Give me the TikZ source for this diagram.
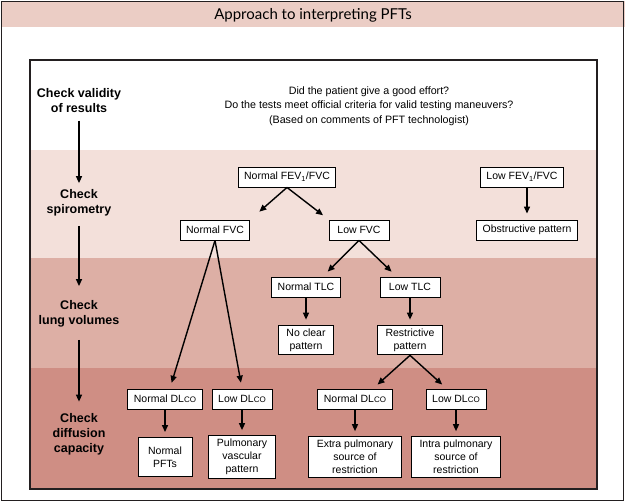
\documentclass[tikz,border=0pt]{standalone}
\usepackage{fontspec}
\setmainfont{Liberation Sans}
\newfontfamily\headfont{Lato}
\usepackage{xcolor}
\definecolor{headpink}{HTML}{EBCDC5}
\definecolor{bandone}{HTML}{F3E0DA}
\definecolor{bandtwo}{HTML}{DDAFA5}
\definecolor{bandthree}{HTML}{CF8E84}
\definecolor{framegray}{HTML}{231F20}
\usetikzlibrary{arrows.meta, calc}

\newcommand{\dlco}{DL{\fontsize{8}{8}\selectfont CO}}

\begin{document}
\begin{tikzpicture}[x=1pt, y=-1pt, font=\fontsize{10.5}{13}\selectfont,
    box/.style={draw, fill=white, line width=0.9pt, minimum width=60pt,
      minimum height=20pt, inner xsep=6pt},
    tbox/.style={draw, fill=white, line width=0.9pt, align=center,
      inner xsep=8pt, inner ysep=3.5pt},
    stage/.style={font=\fontsize{12.5}{15}\selectfont\bfseries, align=center},
    arr/.style={-{Triangle[length=7pt,width=6pt]}, line width=1.4pt}]
  \useasboundingbox (0,0) rectangle (626,502);
  % header
  \fill[headpink] (1,1) rectangle (625,27);
  \node (head) at (313,15) {\headfont\fontsize{15}{15}\selectfont Approach to interpreting PFTs};
  \draw[framegray, line width=0.8pt] (1.5,1) rectangle (623.5,500.5);
  % bands
  \foreach \y/\h/\c in {150/258/bandone, 258/368/bandtwo, 368/489/bandthree}{
    \fill[\c] (30,\y) rectangle (597,\h);
  }
  \draw[framegray, line width=2.4pt] (30,60) rectangle (597,489);

  % stages
  \node[stage] (valid) at (79,101) {Check validity\\of results};
  \node[stage] (spiro) at (79,203) {Check\\spirometry};
  \node[stage] (volum) at (79,314) {Check\\lung volumes};
  \node[stage] (diffu) at (79,434) {Check\\diffusion\\capacity};
  \foreach \a/\b/\s/\e in {valid/spiro/4/3, spiro/volum/6/11, volum/diffu/9/8}{
    \draw[arr, shorten <=\s pt, shorten >=\e pt] (\a) -- (\b);
  }
  \node[align=center, font=\fontsize{10.7}{14.5}\selectfont] (effort) at (369,106)
    {Did the patient give a good effort?\\
     Do the tests meet official criteria for valid testing maneuvers?\\
     (Based on comments of PFT technologist)};

  % spirometry
  \node[box] (nfev) at (287,177) {Normal FEV\textsubscript{1}/FVC};
  \node[box] (lfev) at (522,177) {Low FEV\textsubscript{1}/FVC};
  \node[box] (nfvc) at (215,230) {Normal FVC};
  \node[box] (lfvc) at (359,230) {Low FVC};
  \node[box] (obst) at (527,230) {Obstructive pattern};
  % lung volumes
  \node[box] (ntlc) at (306,287) {Normal TLC};
  \node[box] (ltlc) at (410,287) {Low TLC};
  \node[tbox] (nocl) at (306,340) {No clear\\pattern};
  \node[tbox] (rest) at (410,340) {Restrictive\\pattern};
  % diffusion
  \node[box] (ndla) at (165,399) {Normal \dlco};
  \node[box] (ldla) at (242,399) {Low \dlco};
  \node[box] (ndlb) at (355,399) {Normal \dlco};
  \node[box] (ldlb) at (456,399) {Low \dlco};
  \node[tbox, minimum width=54pt, minimum height=39pt] (npft) at (165,457) {Normal\\PFTs};
  \node[tbox] (pvas) at (242,457) {Pulmonary\\vascular\\pattern};
  \node[tbox] (extr) at (355,457) {Extra pulmonary\\source of\\restriction};
  \node[tbox] (intr) at (456,457) {Intra pulmonary\\source of\\restriction};

  % arrows
  \draw[arr, shorten >=12pt] (nfev.south) -- (nfvc.north east);
  \draw[arr, shorten >=7pt] (nfev.south) -- (lfvc.north west);
  \draw[arr, shorten >=7pt] (lfvc.south) -- (ntlc.32);
  \draw[arr, shorten >=7pt] (lfvc.south) -- (ltlc.142);
  \draw[arr, shorten >=6pt] (rest.south) -- (ndlb.30);
  \draw[arr, shorten >=6pt] (rest.south) -- (ldlb.132);
  \draw[arr, shorten >=6pt] (nfvc.south) -- (ndla.65);
  \draw[arr, shorten >=6pt] (nfvc.south) -- (ldla.north);
  \draw[arr, shorten >=6pt] (lfev.south -| obst.north) -- (obst.north);
  \foreach \a/\b in {ntlc/nocl, ltlc/rest, ndla/npft, ldla/pvas, ndlb/extr, ldlb/intr}{
    \draw[arr, shorten >=5pt] (\a) -- (\b);
  }
\end{tikzpicture}
\end{document}
